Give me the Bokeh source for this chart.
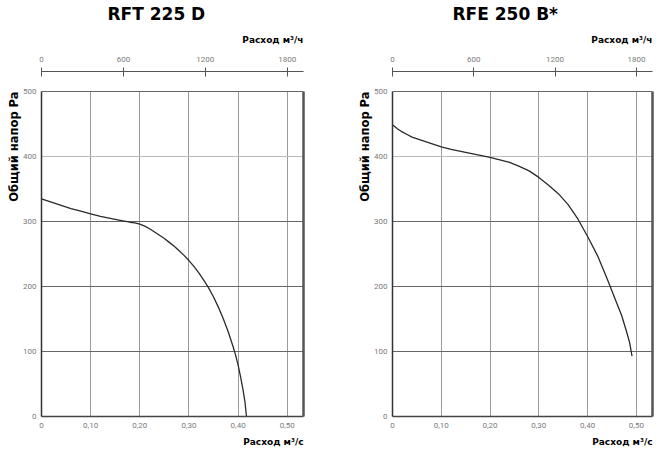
from bokeh.plotting import figure
from bokeh.models import Range1d, LinearAxis, FixedTicker, Grid, Title
from bokeh.layouts import row
from bokeh.embed import file_html
from bokeh.resources import INLINE

# RFT 225 D: flow m3/s vs total pressure Pa
q_rft = [0, 0.02, 0.04, 0.06, 0.08, 0.10, 0.12, 0.14, 0.16, 0.18, 0.19,
         0.20, 0.21, 0.22, 0.23, 0.24, 0.25, 0.26, 0.27, 0.28, 0.29, 0.30,
         0.31, 0.32, 0.33, 0.34, 0.35, 0.36, 0.37, 0.38, 0.39, 0.395,
         0.40, 0.405, 0.41, 0.414, 0.417]
p_rft = [335, 330, 325, 320, 316, 312, 308, 305, 302, 299, 298,
         296, 293, 289, 284, 279, 274, 268, 262, 255, 248, 240,
         231, 221, 210, 198, 184, 168, 150, 130, 107, 94,
         79, 61, 41, 22, 0]

# RFE 250 B*
q_rfe = [0, 0.01, 0.02, 0.03, 0.04, 0.06, 0.08, 0.10, 0.12, 0.14,
         0.16, 0.18, 0.20, 0.22, 0.24, 0.26, 0.28, 0.30, 0.32, 0.34,
         0.36, 0.38, 0.40, 0.42, 0.44, 0.46, 0.47, 0.48, 0.486, 0.491]
p_rfe = [449, 443, 438, 434, 430, 425, 420, 415, 411, 408,
         405, 402, 399, 395, 391, 385, 378, 368, 356, 343,
         326, 304, 277, 248, 212, 174, 155, 130, 114, 93]

x_ticks = [0, 0.1, 0.2, 0.3, 0.4, 0.5]
x_labels = ["0", "0,10", "0,20", "0,30", "0,40", "0,50"]
mh_ticks = [0, 600, 1200, 1800]
y_ticks = [0, 100, 200, 300, 400, 500]
y_dark = [100, 200, 300, 500]
y_light = [400]

X_MAX = 0.533
Y_MAX = 500
Y_TOP = 531  # room above 500 for the m3/h scale

TICK_FONT = "Roboto"
BOLD_FONT = "DejaVu Sans"


def make_chart(name, q, pr, width, left, right, title_offset):
    p = figure(width=width, height=461, title=None,
               x_range=Range1d(0, X_MAX), y_range=Range1d(0, Y_TOP),
               output_backend="svg", toolbar_location=None,
               min_border_left=left, min_border_right=right,
               min_border_top=71, min_border_bottom=45)
    p.outline_line_color = None

    # bottom axis, m3/s
    xa = p.xaxis[0]
    xa.ticker = FixedTicker(ticks=x_ticks)
    xa.major_label_overrides = dict(zip(x_ticks, x_labels))
    xa.major_tick_out = 0
    xa.major_tick_in = 0
    xa.minor_tick_out = 0
    xa.minor_tick_in = 0
    xa.axis_line_color = "#444444"
    xa.axis_line_width = 1.5
    xa.major_label_standoff = 6
    xa.major_label_text_font = TICK_FONT
    xa.major_label_text_font_size = "8px"
    xa.major_label_text_color = "#7a7a7a"

    # left axis, Pa
    ya = p.yaxis[0]
    ya.ticker = FixedTicker(ticks=y_ticks)
    ya.bounds = (0, Y_MAX)
    ya.major_tick_out = 0
    ya.major_tick_in = 0
    ya.minor_tick_out = 0
    ya.minor_tick_in = 0
    ya.axis_line_color = "#333333"
    ya.axis_line_width = 1.5
    ya.major_label_standoff = 5
    ya.major_label_text_font = TICK_FONT
    ya.major_label_text_font_size = "8px"
    ya.major_label_text_color = "#7a7a7a"

    # top axis, m3/h
    p.extra_x_ranges = {"mh": Range1d(0, X_MAX * 3600)}
    ta = LinearAxis(x_range_name="mh", ticker=FixedTicker(ticks=mh_ticks),
                    major_tick_in=5, major_tick_out=4,
                    minor_tick_in=0, minor_tick_out=0,
                    axis_line_color="#555555", major_tick_line_color="#555555",
                    major_label_standoff=6, major_label_text_font=TICK_FONT,
                    major_label_text_font_size="8px",
                    major_label_text_color="#7a7a7a")
    p.add_layout(ta, "above")

    # right border
    ra = LinearAxis(ticker=FixedTicker(ticks=[]), bounds=(0, Y_MAX),
                    major_tick_in=0, major_tick_out=0,
                    minor_tick_in=0, minor_tick_out=0,
                    axis_line_color="#555555", axis_line_width=2.5)
    p.add_layout(ra, "right")

    # grids
    p.xgrid.ticker = FixedTicker(ticks=x_ticks[1:])
    p.xgrid.cross_bounds = (0, Y_MAX)
    p.xgrid.grid_line_color = "#9a9a9a"
    p.ygrid.ticker = FixedTicker(ticks=y_dark)
    p.ygrid.grid_line_color = "#666666"
    p.add_layout(Grid(dimension=1, ticker=FixedTicker(ticks=y_light),
                      grid_line_color="#bbbbbb"))

    p.line(q, pr, line_color="#2a2a2a", line_width=1.3)

    # titles
    p.add_layout(Title(text="Расход м³/ч", align="right", standoff=17,
                       text_font=BOLD_FONT, text_font_size="9px",
                       text_font_style="bold", text_color="black"), "above")
    p.add_layout(Title(text=name, align="left", offset=title_offset,
                       standoff=1, text_font=BOLD_FONT,
                       text_font_size="17px", text_font_style="bold",
                       text_color="black"), "above")
    p.add_layout(Title(text="Расход м³/с", align="right", standoff=8,
                       text_font=BOLD_FONT, text_font_size="9px",
                       text_font_style="bold", text_color="black"), "below")
    p.add_layout(Title(text="Общий напор Pa", align="right", offset=20,
                       standoff=0, text_font=BOLD_FONT,
                       text_font_size="11.5px", text_font_style="bold",
                       text_color="black"), "left")
    return p


p1 = make_chart("RFT 225 D", q_rft, p_rft, 346, 41, 43, 66)
p2 = make_chart("RFE 250 B*", q_rfe, p_rfe, 314, 46, 8, 60)

layout = row(p1, p2)
open("out.html", "w").write(file_html(layout, INLINE))
